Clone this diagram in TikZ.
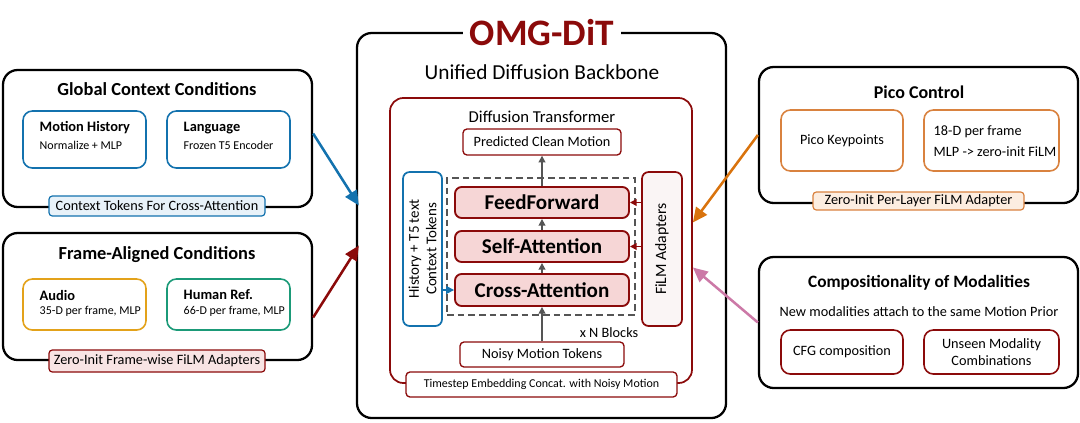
\documentclass[tikz,border=0pt]{standalone}
\usepackage{fontspec}
\setmainfont{Carlito}
\usetikzlibrary{arrows.meta,fit,calc}
\definecolor{dred}{HTML}{8B0A0A}
\definecolor{cblue}{HTML}{1372AE}
\definecolor{corange}{HTML}{D9730D}
\definecolor{lorange}{HTML}{D9823F}
\definecolor{cpink}{HTML}{CC79A7}
\definecolor{cyellow}{HTML}{E3A21A}
\definecolor{cgreen}{HTML}{1B9A78}
\definecolor{blockfill}{HTML}{F6D6D6}
\definecolor{bluefill}{HTML}{E8F2F9}
\definecolor{pinkfill}{HTML}{F8E4E4}
\definecolor{orangefill}{HTML}{FCEDE0}
\definecolor{filmfill}{HTML}{FAF5F5}
\definecolor{arrgray}{HTML}{555555}
\begin{document}
\begin{tikzpicture}[x=0.75pt,y=-0.75pt,
  outer/.style={draw=black,line width=1.7pt,rounded corners=11pt,inner sep=0pt},
  inbox/.style={line width=1.2pt,rounded corners=7pt,inner sep=0pt,fill=white},
  tagbox/.style={line width=0.9pt,rounded corners=2.5pt,inner sep=0pt},
  ttl/.style={font=\bfseries\fontsize{13.8}{16}\selectfont},
  sub/.style={font=\bfseries\fontsize{10.8}{13}\selectfont,anchor=west},
  smallw/.style={font=\fontsize{9}{11}\selectfont,anchor=west},
  txt/.style={font=\fontsize{10.7}{13}\selectfont},
  blk/.style={draw=dred,fill=blockfill,line width=1.4pt,rounded corners=5pt,inner sep=0pt},
  blktxt/.style={font=\bfseries\fontsize{15.8}{18}\selectfont},
  bigarrow/.style={line width=1.9pt,-{Triangle[length=11pt,width=10pt]}},
  garrow/.style={draw=arrgray,line width=1.2pt,-{Triangle[length=5pt,width=5pt]}},
  rarrow/.style={draw=dred,line width=1.2pt,-{Triangle[length=5pt,width=5pt]}},
  barrow/.style={draw=cblue,line width=1.2pt,-{Triangle[length=6pt,width=6pt]}}
]
\useasboundingbox (0,0) rectangle (1080,422);

% ---------- Global Context Conditions ----------
\node[outer,fit={(3,70)(312,207)}] (gcc) {};
\node[ttl] (gcct) at (157,89) {Global Context Conditions};
\node[inbox,draw=cblue,fill=white,fit={(23,111)(146,168)}] (mh) {};
\node[sub] (mht) at (35,128) {Motion History};
\node[smallw] (mhs) at (35,145) {Normalize + MLP};
\node[inbox,draw=cblue,fit={(167,111)(290,168)}] (lang) {};
\node[sub] (langt) at (179,128) {Language};
\node[smallw] (langs) at (179,145) {Frozen T5 Encoder};
\node[tagbox,draw=cblue,fill=bluefill,fit={(49,196)(265,216)}] (ctag) {};
\node[txt] (ctagt) at (ctag) {Context Tokens For Cross-Attention};

% ---------- Frame-Aligned Conditions ----------
\node[outer,fit={(3,233)(312,360)}] (fac) {};
\node[ttl] (fact) at (157,255) {Frame-Aligned Conditions};
\node[inbox,draw=cyellow,fit={(23,279)(146,330)}] (aud) {};
\node[sub] (audt) at (35,295) {Audio};
\node[smallw] (auds) at (35,311) {35-D per frame, MLP};
\node[inbox,draw=cgreen,fit={(167,279)(290,330)}] (hum) {};
\node[sub] (humt) at (179,295) {Human Ref.};
\node[smallw] (hums) at (179,311) {66-D per frame, MLP};
\node[tagbox,draw=dred,fill=pinkfill,fit={(49,350)(265,372)}] (ftag) {};
\node[txt] (ftagt) at (ftag) {Zero-Init Frame-wise FiLM Adapters};

% ---------- OMG-DiT ----------
\node[outer,fit={(357,33)(726,418)}] (omg) {};
\node[fill=white,text=dred,font=\bfseries\fontsize{28}{32}\selectfont,inner xsep=5pt,inner ysep=0pt] (omgt) at (542,33) {OMG-DiT};
\node[font=\fontsize{16}{19}\selectfont] (ubb) at (542,72) {Unified Diffusion Backbone};

\node[draw=dred,line width=1.3pt,rounded corners=10pt,inner sep=0pt,fit={(390,98)(692,383)}] (dt) {};
\node[font=\fontsize{12.5}{15}\selectfont] (dtt) at (542,117) {Diffusion Transformer};
\node[draw=dred,line width=1pt,rounded corners=3pt,fill=white,inner sep=0pt,fit={(463,129)(621,155)}] (pred) {};
\node[txt] (predt) at (pred) {Predicted Clean Motion};

\node[draw=arrgray,dashed,dash pattern=on 5pt off 3pt,line width=1pt,inner sep=0pt,fit={(447,178)(635,315)}] (dash) {};
\node[blk,fit={(455,187)(629,218)}] (ff) {};
\node[blktxt] (fft) at (ff) {FeedForward};
\node[blk,fit={(455,231)(629,262)}] (sa) {};
\node[blktxt] (sat) at (sa) {Self-Attention};
\node[blk,fit={(455,274)(629,306)}] (ca) {};
\node[blktxt] (cat) at (ca) {Cross-Attention};

\node[draw=cblue,line width=1.3pt,rounded corners=5pt,fill=white,inner sep=0pt,fit={(403,172)(442,326)}] (ctx) {};
\node[rotate=90,align=center,font=\fontsize{11.2}{13}\selectfont] (ctxt) at (ctx) {History + T5 text\\Context Tokens};
\node[draw=dred,line width=1.3pt,rounded corners=5pt,fill=filmfill,inner sep=0pt,fit={(642,172)(682,326)}] (film) {};
\node[rotate=90,font=\fontsize{11.8}{14}\selectfont] (filmt) at (film) {FiLM Adapters};

\node[txt] (xn) at (609,333) {x N Blocks};
\node[draw=dred,line width=1pt,rounded corners=3pt,fill=white,inner sep=0pt,fit={(460,342)(624,367)}] (noisy) {};
\node[txt] (noisyt) at (noisy) {Noisy Motion Tokens};
\node[draw=dred,line width=1pt,rounded corners=3pt,fill=white,inner sep=0pt,fit={(406,372)(677,397)}] (ts) {};
\node[font=\fontsize{9}{11}\selectfont] (tst) at (ts) {Timestep Embedding Concat. with Noisy Motion};

\draw[garrow] (ff.north) -- (pred.south);
\draw[garrow] (sa.north) -- (ff.south);
\draw[garrow] (ca.north) -- (sa.south);
\draw[garrow] (noisy.north) -- (ca.south);
\draw[rarrow] (film.west |- ff.east) -- (ff.east);
\draw[rarrow] (film.west |- sa.east) -- (sa.east);
\draw[barrow] (ctx.east |- ca.west) -- (ca.west);

% ---------- Pico Control ----------
\node[outer,fit={(759,67)(1078,203)}] (pico) {};
\node[font=\bfseries\fontsize{13.5}{16}\selectfont] (picot) at (919,92) {Pico Control};
\node[inbox,draw=lorange,fit={(781,110)(903,171)}] (pk) {};
\node[txt] (pkt) at (pk) {Pico Keypoints};
\node[inbox,draw=lorange,fit={(924,110)(1059,171)}] (pd) {};
\node[anchor=west,txt] (pdt1) at (929,132) {18-D per frame};
\node[anchor=west,txt] (pdt2) at (929,152) {MLP -> zero-init FiLM};
\node[tagbox,draw=lorange,fill=orangefill,fit={(813,192)(1024,210)}] (ptag) {};
\node[txt] (ptagt) at (ptag) {Zero-Init Per-Layer FiLM Adapter};

% ---------- Compositionality ----------
\node[outer,fit={(759,257)(1078,388)}] (comp) {};
\node[font=\bfseries\fontsize{13}{16}\selectfont] (compt) at (919,283) {Compositionality of Modalities};
\node[txt] (comps) at (919,312) {New modalities attach to the same Motion Prior};
\node[inbox,draw=dred,fit={(781,330)(903,374)}] (cfg) {};
\node[txt] (cfgt) at (cfg) {CFG composition};
\node[inbox,draw=dred,fit={(924,330)(1059,374)}] (uns) {};
\node[align=center,font=\fontsize{10.7}{12.5}\selectfont] (unst) at (uns) {Unseen Modality\\Combinations};

% ---------- Big arrows ----------
\draw[bigarrow,draw=cblue] ($(gcc.east)+(0,-5)$) -- ($(omg.west)+(3,-20)$);
\draw[bigarrow,draw=dred] ($(fac.east)+(0,21)$) -- ($(omg.west)+(3,20)$);
\draw[bigarrow,draw=corange] (pico.west) -- ($(dt.east)+(0,-18)$);
\draw[bigarrow,draw=cpink] (comp.west) -- ($(dt.east)+(0,27)$);
\end{tikzpicture}
\end{document}
